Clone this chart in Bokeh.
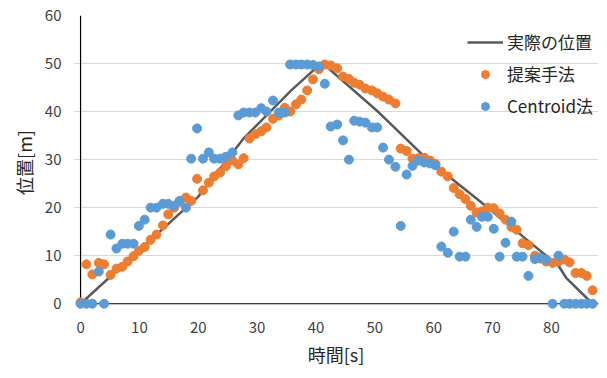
from bokeh.plotting import figure
from bokeh.models import Range1d, FixedTicker, Legend, LegendItem
from bokeh.embed import file_html
from bokeh.resources import INLINE

# ---- data ----
time_s = [0, 1, 2, 3.1, 4, 5.1, 6.1, 7.1, 8.0, 9.0, 9.9, 10.9, 11.9, 12.9,
          14.0, 14.9, 15.9, 16.8, 17.9, 18.8, 19.8, 20.8, 21.8, 22.7, 23.7,
          24.7, 25.8, 26.8, 27.7, 28.7, 29.7, 30.7, 31.6, 32.7, 33.7, 34.7,
          35.6, 36.6, 37.5, 38.5, 39.5, 40.5, 41.5, 42.5, 43.6, 44.6, 45.6,
          46.5, 47.4, 48.4, 49.5, 50.4, 51.4, 52.4, 53.5, 54.4, 55.4, 56.4,
          57.4, 58.4, 59.4, 60.3, 61.3, 62.4, 63.4, 64.4, 65.4, 66.3, 67.3,
          68.2, 69.2, 70.2, 71.2, 72.2, 73.2, 74.1, 75.1, 76.1, 77.2, 78.1,
          79.1, 80.2, 81.2, 82.2, 83.1, 84.1, 85.1, 86.0, 87.0]

proposed = [0.3, 8.2, 6.1, 8.5, 8.2, 6.0, 7.3, 7.7, 8.8, 9.9, 11.0, 11.8, 13.3, 14.4,
            16.3, 18.6, 20.0, 21.2, 22.1, 21.4, 26.0, 23.6, 25.2, 26.5, 27.3,
            28.6, 29.8, 29.0, 30.3, 34.4, 35.3, 35.9, 36.7, 38.5, 39.2, 40.8,
            40.0, 41.5, 42.5, 44.4, 46.7, 48.8, 49.8, 49.6, 49.0, 47.3, 46.8,
            46.0, 45.6, 44.8, 44.4, 43.8, 43.1, 42.5, 41.7, 32.3, 31.8, 30.2,
            30.3, 30.4, 29.8, 29.1, 27.5, 26.5, 24.1, 22.8, 21.8, 20.4, 19.0,
            19.2, 20.0, 19.9, 18.8, 17.5, 16.0, 15.4, 12.6, 12.2, 10.0, 9.4,
            8.8, 8.5, 8.8, 9.2, 8.6, 6.4, 6.4, 5.8, 2.8]

centroid = [0, 0, 0, 6.7, 0, 14.4, 11.5, 12.5, 12.5, 12.5, 16.2, 17.5, 20.0, 20.0,
            20.8, 20.8, 20.4, 21.4, 20.0, 30.2, 36.5, 30.2, 31.5, 30.2, 30.2,
            30.6, 31.5, 39.2, 39.8, 39.8, 39.8, 40.7, 40.0, 42.3, 39.8, 39.8,
            49.8, 49.8, 49.8, 49.8, 49.7, 49.4, 45.8, 36.9, 37.3, 34.0, 30.0,
            38.1, 37.9, 37.7, 36.7, 36.7, 32.5, 30.0, 28.5, 16.2, 26.9, 28.7,
            29.8, 29.4, 29.2, 28.8, 11.9, 10.6, 15.0, 9.8, 9.8, 17.5, 16.0,
            18.1, 18.1, 15.6, 9.8, 12.7, 17.1, 9.8, 9.8, 5.8, 9.3, 9.6,
            9.2, 0, 10.0, 0, 0, 0, 0, 0, 0]

actual_t = [0, 20.0, 27.7, 35.8, 41.0, 50.7, 58.6, 68.8, 81.2, 82.5, 87.0]
actual_pos = [0, 22.3, 34.4, 44.4, 50.2, 39.8, 30.4, 20.4, 7.9, 5.4, 0]

x_ticks = [0, 10, 20, 30, 40, 50, 60, 70, 80]
y_ticks = [0, 10, 20, 30, 40, 50, 60]
x_max = 88

JP = "Noto Sans CJK JP"

p = figure(width=607, height=378, output_backend="svg", toolbar_location=None,
           x_range=Range1d(-1.2, x_max), y_range=Range1d(-1.2, y_ticks[-1]),
           min_border_left=73, min_border_right=9, min_border_top=15,
           min_border_bottom=69)
p.outline_line_color = None
p.background_fill_color = "white"
p.border_fill_color = "white"

# grid
p.xgrid.grid_line_color = None
p.ygrid.ticker = FixedTicker(ticks=y_ticks[1:])
p.ygrid.grid_line_color = "#D9D9D9"
p.ygrid.grid_line_width = 1

# axes
for ax in (p.xaxis[0], p.yaxis[0]):
    ax.axis_line_color = None
    ax.major_tick_line_color = None
    ax.minor_tick_line_color = None
    ax.major_label_text_font = JP
    ax.major_label_text_font_size = "15px"
    ax.major_label_text_color = "#404040"
    ax.axis_label_text_font = JP
    ax.axis_label_text_font_size = "18px"
    ax.axis_label_text_font_style = "normal"
    ax.axis_label_text_color = "#262626"
p.xaxis.ticker = FixedTicker(ticks=x_ticks)
p.yaxis.ticker = FixedTicker(ticks=y_ticks)
p.xaxis.axis_label = "時間[s]"
p.yaxis.axis_label = "位置[m]"
p.xaxis.major_label_standoff = 6
p.xaxis.axis_label_standoff = 5
p.yaxis.major_label_standoff = 6
p.yaxis.axis_label_standoff = 5

# axis lines at data 0
p.segment(x0=[0], y0=[0], x1=[x_max], y1=[0], line_color="#000000", line_width=1.2)
p.segment(x0=[0], y0=[0], x1=[0], y1=[y_ticks[-1]], line_color="#000000", line_width=1.2)

# series
r_line = p.line(actual_t, actual_pos, line_color="#595959", line_width=2.5)
r_prop = p.scatter(time_s, proposed, size=9, fill_color="#ED7D31", line_color="#ED7D31",
                   marker="circle")
r_cent = p.scatter(time_s, centroid, size=9, fill_color="#5B9BD5", line_color="#5B9BD5",
                   marker="circle")

legend = Legend(items=[LegendItem(label="実際の位置", renderers=[r_line]),
                       LegendItem(label="提案手法", renderers=[r_prop]),
                       LegendItem(label="Centroid法", renderers=[r_cent])],
                location=(394, 191))
legend.label_text_font = JP
legend.label_text_font_size = "17px"
legend.label_text_color = "#262626"
legend.border_line_color = None
legend.background_fill_alpha = 0
legend.padding = 0
legend.margin = 0
legend.spacing = 7
legend.glyph_width = 36
legend.glyph_height = 20
legend.label_height = 20
legend.label_standoff = 4
p.add_layout(legend)

open("out.html", "w").write(file_html(p, INLINE))
